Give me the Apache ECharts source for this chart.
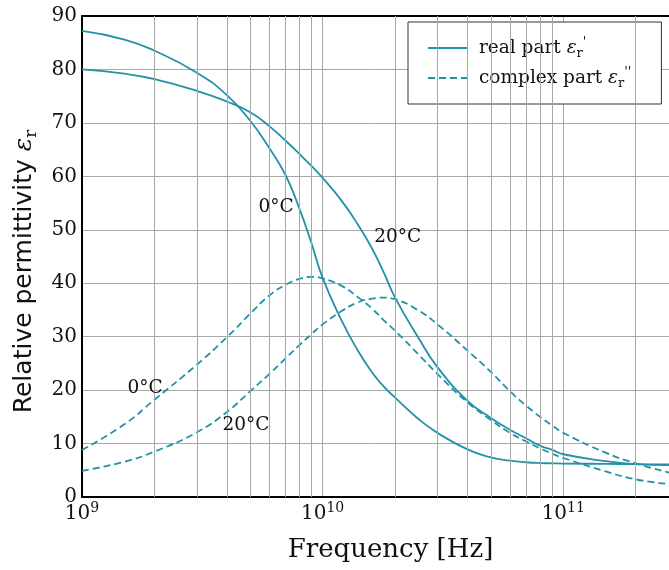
<!DOCTYPE html>
<html><head><meta charset="utf-8">
<script src="https://cdn.jsdelivr.net/npm/echarts@6/dist/echarts.min.js"></script>
<style>html,body{margin:0;padding:0;background:#fff}#c{width:669px;height:570px}</style>
</head><body><div id="c"></div>
<script>
// Frequencies in Hz
const freqs   = [1e9, 1.5e9, 2e9, 3e9, 4e9, 5e9, 6e9, 7e9, 8e9, 9e9, 1e10, 1.2e10, 1.4e10, 1.6e10, 1.8e10, 2e10, 2.5e10, 3e10, 4e10, 5e10, 6e10, 7e10, 8e10, 9e10, 1e11, 1.5e11, 2e11, 2.8e11];
// Real part (solid)
const real0C  = [87.2, 85.6, 83.5, 79.4, 75.2, 70.4, 65.3, 60.3, 54.0, 47.4, 41.0, 33.0, 27.4, 23.4, 20.6, 18.6, 14.6, 12.0, 8.9, 7.4, 6.8, 6.5, 6.35, 6.3, 6.25, 6.2, 6.15, 6.1];
const real20C = [80.0, 79.2, 78.2, 76.0, 74.0, 72.0, 69.4, 66.7, 64.2, 61.9, 59.7, 55.4, 51.0, 46.6, 41.9, 37.3, 29.8, 24.3, 18.0, 14.8, 12.6, 11.0, 9.6, 8.8, 8.0, 6.7, 6.15, 5.95];
// Imaginary part (dashed)
const imag0C  = [8.8, 13.6, 18.2, 24.75, 29.9, 34.3, 37.7, 39.7, 40.8, 41.2, 40.9, 39.5, 37.4, 35.3, 33.0, 31.1, 26.7, 23.0, 17.7, 14.4, 12.0, 10.4, 9.1, 8.1, 7.3, 4.8, 3.3, 2.4];
const imag20C = [4.9, 6.6, 8.5, 12.1, 15.9, 19.8, 23.0, 25.9, 28.4, 30.5, 32.3, 34.8, 36.4, 37.1, 37.3, 37.0, 34.9, 32.3, 27.4, 23.4, 19.8, 17.1, 15.0, 13.4, 12.0, 8.3, 6.3, 4.5];

const realName = 'real part';
const imagName = 'complex part';
const yTickValues = [0, 10, 20, 30, 40, 50, 60, 70, 80, 90];
const minorGridFreqs = [2e9,3e9,4e9,5e9,6e9,7e9,8e9,9e9,2e10,3e10,4e10,5e10,6e10,7e10,8e10,9e10,2e11];
const realLabels = [{name:'0°C', freq:6.4e9, value:54.2}, {name:'20°C', freq:2.05e10, value:48.6}];
const imagLabels = [{name:'0°C', freq:1.83e9, value:20.3}, {name:'20°C', freq:4.8e9, value:13.5}];

const COLOR = '#2192a8';
const GRID = '#a8a8a8';
const SERIF = 'DejaVu Serif';
const X_MIN = 1e9, X_MAX = 2.75e11;
const zip = (xs, ys) => xs.map((x, i) => [x, ys[i]]);

function labelPoints(list) {
  return {
    symbol: 'circle', symbolSize: 1, silent: true,
    itemStyle: {color: 'rgba(0,0,0,0)'},
    label: {show: true, position: 'inside', formatter: p => p.name, color: '#111', fontFamily: SERIF, fontSize: 18.5},
    data: list.map(l => ({name: l.name, coord: [l.freq, l.value]}))
  };
}
const lineCommon = {type: 'line', smooth: 0.5, symbol: 'none', z: 3, itemStyle: {color: COLOR}};

const chart = echarts.init(document.getElementById('c'));
chart.setOption({
  animation: false,
  grid: {left: 81, top: 16, right: 0, bottom: 73, containLabel: false},
  legend: {
    left: 408, top: 22, orient: 'vertical',
    padding: [14, 30, 14, 19], itemGap: 6, itemWidth: 40, itemHeight: 14,
    borderColor: '#333', borderWidth: 1, backgroundColor: '#fff',
    itemStyle: {opacity: 0},
    data: [realName, imagName],
    formatter: n => n === realName ? 'real part {e|ε}{sub|r}{sup|\'}' : 'complex part {e|ε}{sub|r}{sup|\'\'}',
    textStyle: {
      fontFamily: SERIF, fontSize: 18.5, color: '#111', lineHeight: 24, padding: [0,0,0,6],
      rich: {
        e: {fontFamily: SERIF, fontStyle: 'italic', fontSize: 18.5, lineHeight: 24},
        sub: {fontFamily: SERIF, fontSize: 13, lineHeight: 13, verticalAlign: 'bottom'},
        sup: {fontFamily: SERIF, fontSize: 13, lineHeight: 13, verticalAlign: 'top'}
      }
    }
  },
  xAxis: [{
    type: 'log', logBase: 10, min: X_MIN, max: X_MAX,
    name: 'Frequency [Hz]', nameLocation: 'middle', nameGap: 40,
    nameTextStyle: {fontFamily: SERIF, fontSize: 26, color: '#111', padding: [0, 0, 0, 30]},
    axisLine: {show: true, lineStyle: {color: '#000', width: 2}},
    axisTick: {show: false},
    splitLine: {show: true, lineStyle: {color: GRID, width: 1}},
    axisLabel: {
      margin: 4, color: '#111', fontFamily: SERIF, fontSize: 20, showMaxLabel: false,
      formatter: v => { const e = Math.log10(v); return Math.abs(e - Math.round(e)) < 1e-6 ? '10{sup|' + Math.round(e) + '}' : ''; },
      rich: {sup: {fontFamily: SERIF, fontSize: 14, lineHeight: 12, verticalAlign: 'top', color: '#111'}},
      lineHeight: 26
    }
  }, {
    type: 'log', logBase: 10, min: X_MIN, max: X_MAX, position: 'top',
    axisLine: {show: true, lineStyle: {color: '#000', width: 2}},
    axisTick: {show: false}, axisLabel: {show: false}, splitLine: {show: false}
  }],
  yAxis: {
    type: 'value', min: 0, max: 90, interval: 10,
    name: 'Relative permittivity {e|ε}{sub|r}', nameLocation: 'middle', nameGap: 42,
    nameTextStyle: {
      fontFamily: 'DejaVu Sans', fontSize: 25, color: '#111', lineHeight: 32, padding: [0, 30, 0, 0],
      rich: {
        e: {fontFamily: SERIF, fontStyle: 'italic', fontSize: 25, lineHeight: 32},
        sub: {fontFamily: SERIF, fontSize: 17, lineHeight: 17, verticalAlign: 'bottom'}
      }
    },
    axisLine: {show: true, lineStyle: {color: '#000', width: 2}},
    axisTick: {show: false},
    splitLine: {show: true, lineStyle: {color: GRID, width: 1}},
    axisLabel: {margin: 5, color: '#111', fontFamily: SERIF, fontSize: 20,
      formatter: v => yTickValues.includes(v) ? String(v) : ''}
  },
  series: [
    {type: 'line', name: '_grid', data: [], z: 1, silent: true,
      markLine: {silent: true, symbol: ['none', 'none'], label: {show: false},
        lineStyle: {color: GRID, width: 1, type: 'solid'},
        data: minorGridFreqs.map(f => ({xAxis: f}))}},
    Object.assign({}, lineCommon, {name: realName, data: zip(freqs, real0C),
      lineStyle: {color: COLOR, width: 1.8}, markPoint: labelPoints(realLabels)}),
    Object.assign({}, lineCommon, {name: realName, data: zip(freqs, real20C),
      lineStyle: {color: COLOR, width: 1.8}}),
    Object.assign({}, lineCommon, {name: imagName, data: zip(freqs, imag0C),
      lineStyle: {color: COLOR, width: 1.8, type: [7, 4]}, markPoint: labelPoints(imagLabels)}),
    Object.assign({}, lineCommon, {name: imagName, data: zip(freqs, imag20C),
      lineStyle: {color: COLOR, width: 1.8, type: [7, 4]}})
  ]
});
</script></body></html>
